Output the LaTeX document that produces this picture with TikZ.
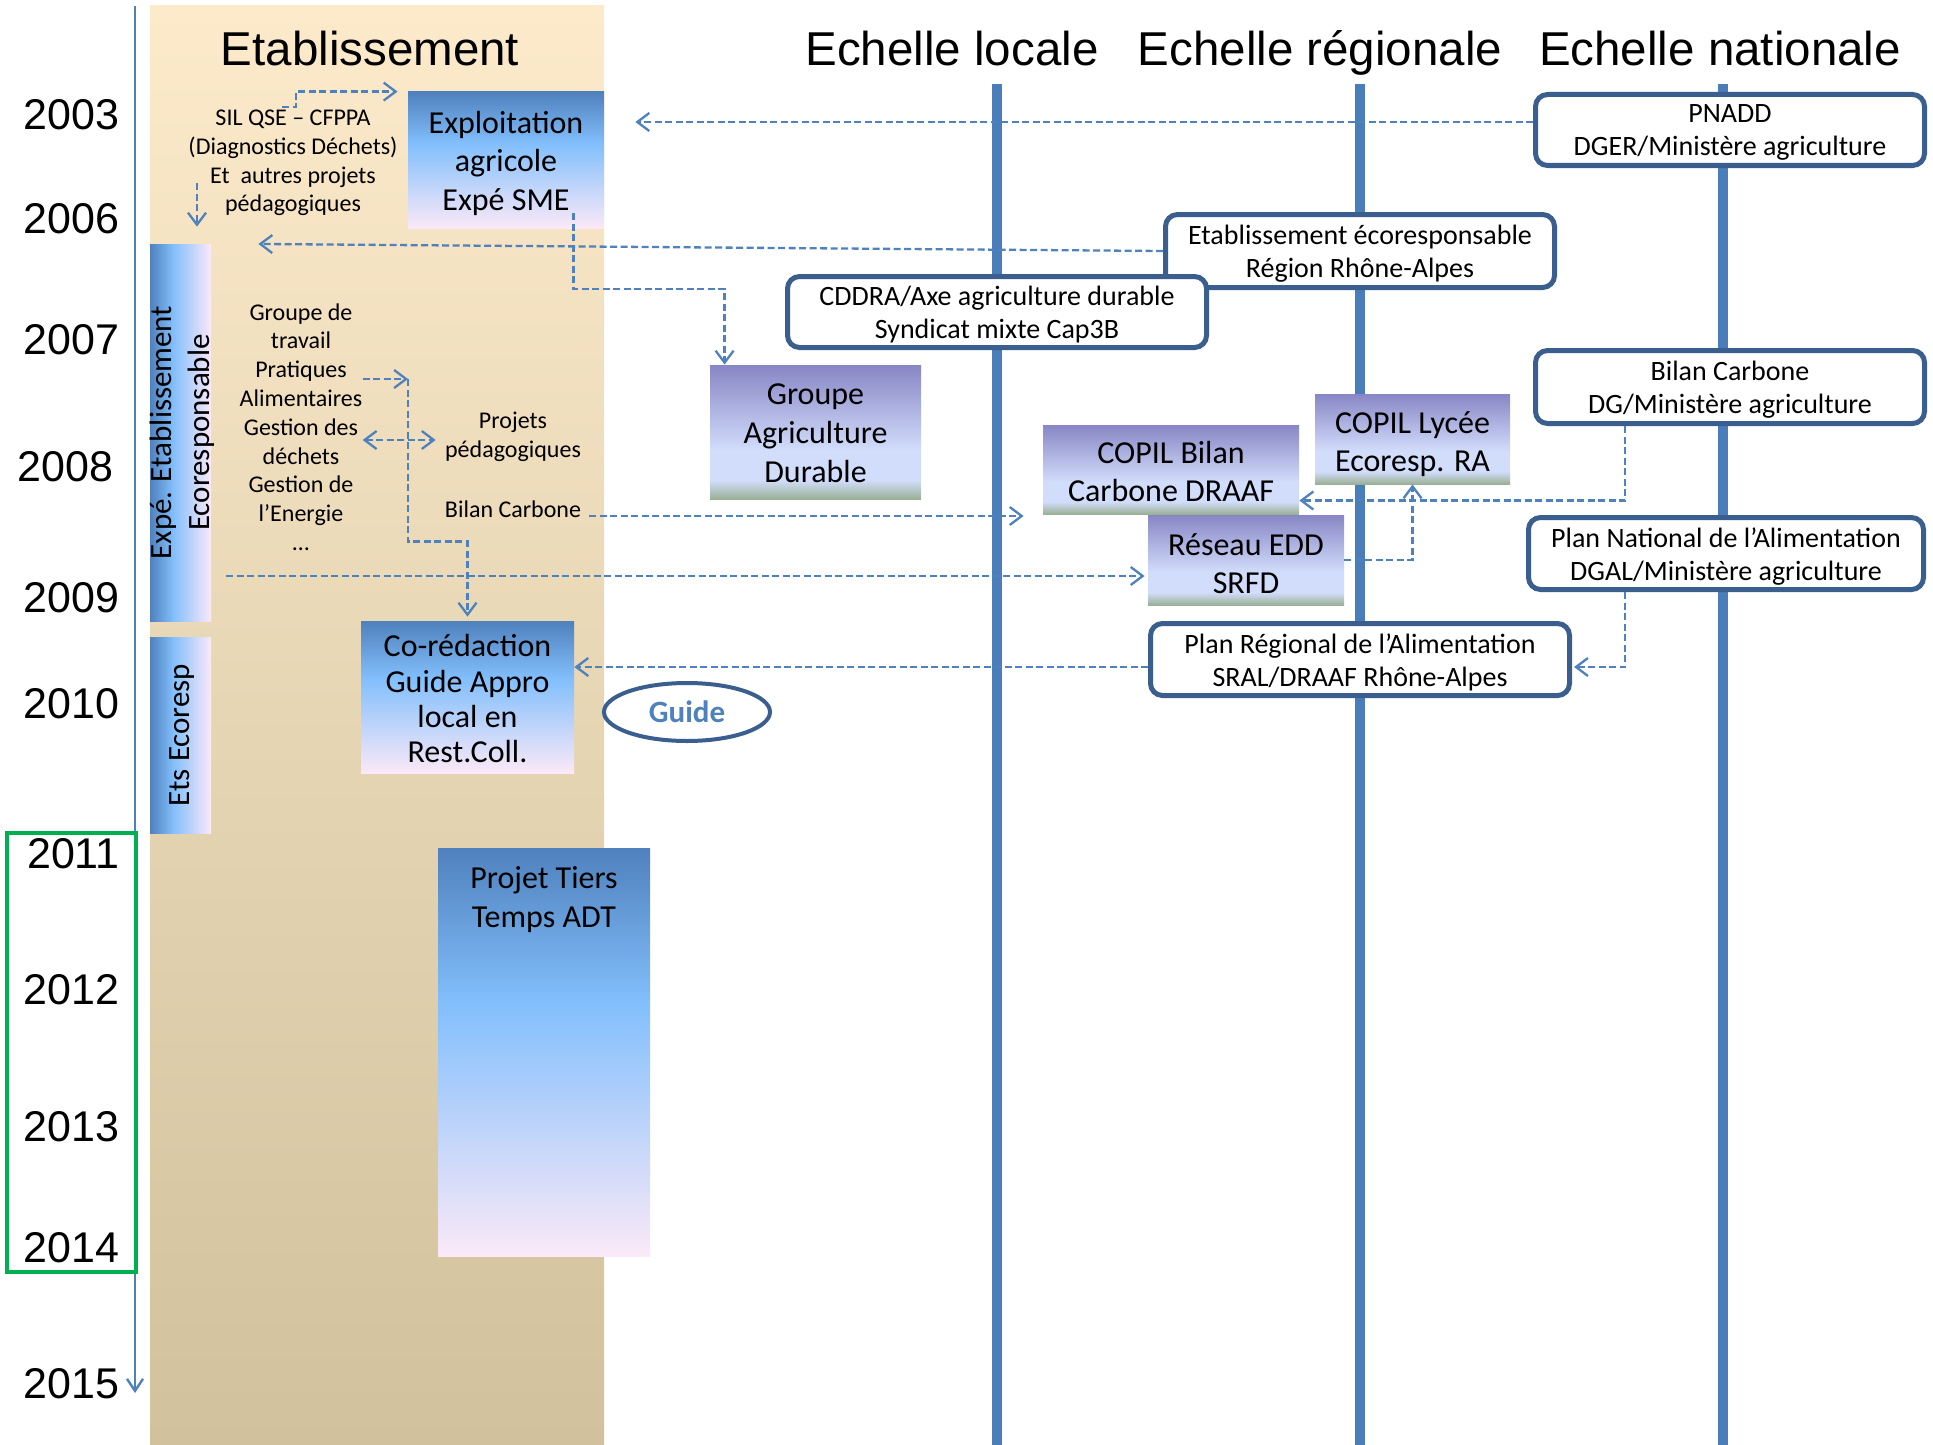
\documentclass[tikz,border=0pt]{standalone}
\usepackage{fontspec}
\setmainfont{Carlito}
\newfontfamily\arialf{Liberation Sans}
\usetikzlibrary{arrows.meta,calc,shapes.geometric}

\definecolor{linkblue}{HTML}{4F81BD}
\definecolor{laneblue}{HTML}{4A7EBB}
\definecolor{boxnavy}{HTML}{3A5F8E}
\definecolor{framegreen}{HTML}{00B050}
\definecolor{btop}{HTML}{4F81BD}
\definecolor{bmid}{HTML}{82BFFC}
\definecolor{bbot}{HTML}{FBE9F8}
\definecolor{ptop}{HTML}{8886C5}
\definecolor{pmid}{HTML}{D2DDFB}
\definecolor{pbot}{HTML}{9AB096}
\definecolor{beigetop}{HTML}{FCEACB}
\definecolor{beigemid}{HTML}{F2EAD4}
\definecolor{beigebot}{HTML}{D1C19C}

\pgfdeclareverticalshading{gradblue}{100bp}{color(0bp)=(bbot); color(25bp)=(bbot); color(56bp)=(bmid); color(75bp)=(btop); color(100bp)=(btop)}
\pgfdeclareverticalshading{gradpurple}{100bp}{color(0bp)=(pbot); color(25bp)=(pbot); color(32bp)=(pmid); color(43bp)=(pmid); color(75bp)=(ptop); color(100bp)=(ptop)}
\pgfdeclarehorizontalshading{gradbar}{100bp}{color(0bp)=(btop); color(25bp)=(btop); color(44bp)=(bmid); color(75bp)=(bbot); color(100bp)=(bbot)}

\tikzset{
  bluefill/.style={shade, shading=gradblue, inner sep=0pt},
  bluebox/.style={bluefill, align=center, font=\fontsize{16}{19}\selectfont},
  purplebox/.style={shade, shading=gradpurple, inner sep=0pt, align=center, font=\fontsize{16}{19}\selectfont},
  barbox/.style={shade, shading=gradbar, inner sep=0pt, minimum width=30.5pt},
  bartext/.style={rotate=90, inner sep=0pt, align=center, font=\fontsize{15.5}{19}\selectfont},
  roundbox/.style={draw=boxnavy, line width=2.5pt, fill=white, rounded corners=6pt, inner sep=0pt, align=center,
    font=\fontsize{14}{16.5}\selectfont, text height=26.5pt, text depth=0pt},
  textblock/.style={text height=#1, text depth=0pt},
  smalltxt/.style={inner sep=0pt, align=center, font=\fontsize{12}{14.4}\selectfont},
  yearlbl/.style={inner sep=0pt, anchor=east, font=\arialf\fontsize{21.5}{24}\selectfont},
  scaletitle/.style={inner sep=0pt, anchor=base, font=\arialf\fontsize{23.75}{28}\selectfont},
  lane/.style={draw=laneblue, line width=5pt},
  conn/.style={draw=linkblue, line width=1.15pt, dash pattern=on 3.5pt off 1.75pt, -{Straight Barb[length=6pt,width=9pt]}},
  connboth/.style={conn, {Straight Barb[length=6pt,width=9pt]}-{Straight Barb[length=6pt,width=9pt]}}
}

\begin{document}
\begin{tikzpicture}[x=0.5pt,y=-0.5pt]
\useasboundingbox (0,0) rectangle (1933,1445);

\shade[top color=beigetop, middle color=beigemid, bottom color=beigebot] (150,6) rectangle (604,1445);
\coordinate (t0) at (135,6);
\coordinate (t1) at (135,1393);
\draw[draw=linkblue, line width=1.2pt, -{Straight Barb[length=6pt,width=8pt]}] (t0) -- (t1);
\foreach \x in {997,1360,1723}
  \draw[lane] (\x,84) -- (\x,1445);
\draw[framegreen, line width=2pt] (7,833) rectangle (136,1272);

\foreach \yr/\y in {2003/115,2006/219,2007/340,2009/598,2010/704,2011/854,2012/990,2013/1127,2014/1248,2015/1384}
  \node[yearlbl] (y\yr) at (120,\y) {\yr};
\node[yearlbl] (y2008) at (114,467) {2008};

\node[scaletitle] (tetab) at (370,66) {Etablissement};
\node[scaletitle] (tloc) at (952,66) {Echelle locale};
\node[scaletitle] (treg) at (1320,66) {Echelle régionale};
\node[scaletitle] (tnat) at (1720,66) {Echelle nationale};

\node[bluebox, minimum width=98pt, minimum height=68pt, font=\fontsize{16}{19.25}\selectfont, textblock=50pt] (expl) at (506,160) {Exploitation\\agricole\\Expé SME};
\node[bluebox, minimum width=106.5pt, minimum height=76pt, font=\fontsize{16}{17.7}\selectfont, textblock=65.9pt] (cored) at (467.5,697) {Co-rédaction\\Guide Appro\\local en\\Rest.Coll.};
\node[bluefill, minimum width=106pt, minimum height=204pt,
  label={[anchor=north, yshift=-9pt, inner sep=0pt, align=center, font=\fontsize{16}{19.5}\selectfont]north:{Projet Tiers\\Temps ADT}}] (tiers) at (544,1052) {};
\node[barbox, minimum height=188.5pt] (bar1) at (180.5,432.5) {};
\node[bartext] (bar1lbl) at (182,432.5) {Expé. Etablissement\\Ecoresponsable};
\node[barbox, minimum height=98pt] (bar2) at (180.5,735) {};
\node[bartext] (bar2lbl) at (182,735) {Ets Ecoresp};

\node[purplebox, minimum width=105.5pt, minimum height=67pt, font=\fontsize{16}{19.5}\selectfont, textblock=50.9pt] (grp) at (815.5,432) {Groupe\\Agriculture\\Durable};
\node[purplebox, minimum width=128pt, minimum height=44.5pt, textblock=32pt] (copilbc) at (1171,469.5) {COPIL Bilan\\Carbone DRAAF};
\node[purplebox, minimum width=97.5pt, minimum height=45pt, textblock=32pt] (copilly) at (1412.5,439) {COPIL Lycée\\Ecoresp. RA};
\node[purplebox, minimum width=98pt, minimum height=45pt, textblock=33.5pt] (edd) at (1246,560) {Réseau EDD\\SRFD};

\node[roundbox, minimum width=194.5pt, minimum height=35.5pt, textblock=25.8pt] (pnadd) at (1730,130) {PNADD\\DGER/Ministère agriculture};
\node[roundbox, minimum width=194.5pt, minimum height=36.5pt, textblock=26pt] (etab) at (1360,251) {Etablissement écoresponsable\\Région Rhône-Alpes};
\node[roundbox, minimum width=209.5pt, minimum height=35.5pt] (cddra) at (997,312) {CDDRA/Axe agriculture durable\\Syndicat mixte Cap3B};
\node[roundbox, minimum width=194.5pt, minimum height=36.5pt] (bilandg) at (1730,387) {Bilan Carbone\\DG/Ministère agriculture};
\node[roundbox, minimum width=197.5pt, minimum height=36pt] (pna) at (1726,553.5) {Plan National de l’Alimentation\\DGAL/Ministère agriculture};
\node[roundbox, minimum width=209.5pt, minimum height=36pt] (pra) at (1360,659.5) {Plan Régional de l’Alimentation\\SRAL/DRAAF Rhône-Alpes};

\node[ellipse, draw=boxnavy, line width=2pt, fill=white, minimum width=83pt, minimum height=29pt, inner sep=0pt,
  text=linkblue, font=\bfseries\fontsize{15.5}{18}\selectfont] (guide) at (687,712) {Guide};

\node[smalltxt] (sil) at (293,163) {SIL QSE – CFPPA\\(Diagnostics Déchets)\\Et\ \ autres projets\\pédagogiques};
\node[smalltxt] (gtrav) at (301,427) {Groupe de\\travail\\Pratiques\\Alimentaires\\Gestion des\\déchets\\Gestion de\\l’Energie\\…};
\node[smalltxt] (proj) at (513,437) {Projets\\pédagogiques};
\node[smalltxt] (bc) at (513,509) {Bilan Carbone};

\coordinate (silstart) at (282,107);
\coordinate (silfoot) at (197,183);
\coordinate (brk) at (408,379);
\coordinate (eddstart) at (226,576);
\coordinate (ea) at ($(expl.south east)+(-15.5pt,7.5pt)$);
\coordinate (eb) at ($(grp.north west)+(7.5pt,0)$);

\draw[conn] (silstart) -- ++(7pt,0) |- ([xshift=-5pt]expl.north west);
\draw[conn, shorten >=8.5pt] (silfoot) -- (silfoot |- bar1.north);
\draw[conn] ($(pnadd.west)+(0,4pt)$) -- ($(pnadd.west -| expl.east)+(15.5pt,4pt)$);
\draw[conn, shorten >=23.5pt] (etab.west) -- (bar1.north east);
\draw[conn] (ea) |- ($(ea)!.5!(eb)$) -| (eb);
\draw[conn] (brk -| gtrav.east) -- (brk);
\draw[conn, shorten >=2pt] (brk) |- ([yshift=39.5pt]cored.north) -- (cored.north);
\draw[connboth] ($(proj.west -| gtrav.east)+(0,-1.5pt)$) -- ($(proj.west)+(-4.5pt,-1.5pt)$);
\draw[conn] ($(bc.east)+(4pt,-3.5pt)$) -- ($(bc.east -| copilbc.west)+(-9.5pt,-3.5pt)$);
\draw[conn, shorten >=1.5pt] (eddstart) -- (eddstart -| edd.west);
\draw[conn] ($(pra.west)+(0,-3.75pt)$) -- ($(pra.west -| cored.east)+(0,-3.75pt)$);
\draw[conn] ($(bilandg.south)+(-52.5pt,0)$) |- ($(copilbc.east)+(0,-15.5pt)$);
\draw[conn] (edd.east) -| (copilly.south);
\draw[conn, shorten >=1pt] ($(pna.south)+(-50.5pt,0)$) |- ($(pra.east)+(0,-3.75pt)$);
\end{tikzpicture}
\end{document}
